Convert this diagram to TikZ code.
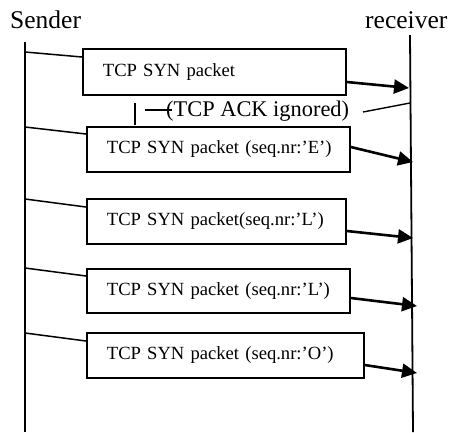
\documentclass[tikz,border=0pt]{standalone}
\usepackage{fontspec}
\setmainfont{Liberation Serif}
\usetikzlibrary{arrows.meta,calc}
\begin{document}
\begin{tikzpicture}[x=1pt,y=-1pt,
  lifeline/.style={line width=1.8pt},
  pkt/.style={draw, line width=1.8pt, anchor=north west, minimum height=45pt,
    inner xsep=20pt, inner ysep=0pt, align=left,
    font=\fontsize{18.6}{20}\selectfont},
  link/.style={line width=1.5pt},
  msg/.style={line width=2.6pt, -{Triangle[length=15pt,width=14pt]}},
  lbl/.style={font=\fontsize{25.5}{28}\selectfont, inner sep=0pt, anchor=base west},
  thin/.style={line width=1.4pt}]
\useasboundingbox (0,0) rectangle (452,432);

% participants and lifelines
\node[lbl] (sender) at (10,28) {Sender};
\node[lbl] (receiver) at (365,28) {receiver};
\coordinate (s0) at (25,42);  \coordinate (s9) at (25,432);
\coordinate (r0) at (410,35); \coordinate (r9) at (413,432);
\draw[lifeline] (s0) -- (s9);
\draw[lifeline] (r0) -- (r9);

% packets
\node[pkt, minimum height=46pt, text width=223pt] (b1) at (82,48) {\mbox{TCP SYN packet}};
\node[pkt, text width=223pt] (b2) at (86,126) {\mbox{TCP SYN packet (seq.nr:’E’)}};
\node[pkt, text width=219pt] (b3) at (86,198) {\mbox{TCP SYN packet(seq.nr:’L’)}};
\node[pkt, minimum height=44pt, text width=223pt] (b4) at (86,268) {\mbox{TCP SYN packet (seq.nr:’L’)}};
\node[pkt, text width=237pt] (b5) at (86,332) {\mbox{TCP SYN packet (seq.nr:’O’)}};

% sender side points
\coordinate (s1) at (25,52);
\coordinate (s2) at (25,127);
\coordinate (s3) at (25,199);
\coordinate (s4) at (25,268);
\coordinate (s5) at (25,333);

% receiver side tips
\coordinate (r1) at (409,88);
\coordinate (r2) at (413,162);
\coordinate (r3) at (413,238);
\coordinate (r4) at (417,306);
\coordinate (r5) at (417,373);

% sender to packet
\draw[link] (s1) -- ([yshift=-9pt]b1.north west);
\draw[link] (s2) -- ([yshift=-8pt]b2.north west);
\draw[link] (s3) -- ([yshift=-9pt]b3.north west);
\draw[link] (s4) -- ([yshift=-8pt]b4.north west);
\draw[link] (s5) -- ([yshift=-9pt]b5.north west);

% packet to receiver
\draw[msg] ([yshift=-34pt]b1.north east) -- (r1);
\draw[msg] ([yshift=-21pt]b2.north east) -- (r2);
\draw[msg] ([yshift=-33pt]b3.north east) -- (r3);
\draw[msg] ([yshift=-30pt]b4.north east) -- (r4);
\draw[msg] ([yshift=-33pt]b5.north east) -- (r5);

% ignored acknowledgement
\node[font=\fontsize{22.4}{24}\selectfont, inner sep=0pt, anchor=base west] (ack) at (166,116) {(TCP ACK ignored)};
\coordinate (ra) at (410,103);
\coordinate (ae) at (363,112);
\draw[thin] (ra) -- (ae);
\coordinate (d0) at (145,110);
\coordinate (d1) at (172,110);
\draw[thin] (d0) -- (d1);
\coordinate (v0) at (135,103);
\coordinate (v1) at (135,125);
\draw[thin] (v0) -- (v1);
\end{tikzpicture}
\end{document}
